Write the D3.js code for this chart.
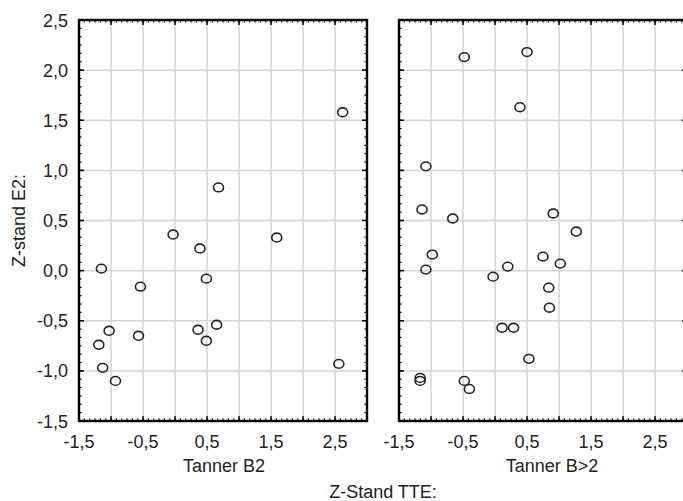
<!DOCTYPE html>
<html>
<head>
<meta charset="utf-8">
<script src="https://cdn.jsdelivr.net/npm/d3@7"></script>
<style>
  body { margin: 0; background: #fff; }
  svg { display: block; font-family: "Liberation Sans", Arial, sans-serif; }
</style>
</head>
<body>
<svg id="chart" width="683" height="501"></svg>
<script>
// Datos (Z-Stand TTE vs Z-stand E2)
var xB2 = [2.62, 0.68, 1.59, -0.03, 0.39, -1.15, 0.49, -0.54, -1.03, -0.57, 0.36, 0.65, 0.49, -1.19, -1.13, -0.93, 2.56];
var yB2 = [1.58, 0.83, 0.33, 0.36, 0.22, 0.02, -0.08, -0.16, -0.60, -0.65, -0.59, -0.54, -0.70, -0.74, -0.97, -1.10, -0.93];

var xB3 = [-0.48, 0.50, 0.39, -1.08, -1.14, -0.66, 0.91, 1.27, -0.98, -1.08, 0.75, 1.02, 0.20, -0.03, 0.84, 0.85, 0.11, 0.29, 0.53, -1.17, -1.17, -0.48, -0.40];
var yB3 = [2.13, 2.18, 1.63, 1.04, 0.61, 0.52, 0.57, 0.39, 0.16, 0.01, 0.14, 0.07, 0.04, -0.06, -0.17, -0.37, -0.57, -0.57, -0.88, -1.07, -1.10, -1.10, -1.18];

var yTicks = [-1.5, -1.0, -0.5, 0.0, 0.5, 1.0, 1.5, 2.0, 2.5];
var xLabels = [-1.5, -0.5, 0.5, 1.5, 2.5];
var xGrid = [-1.0, -0.5, 0.0, 0.5, 1.0, 1.5, 2.0, 2.5];
var panelTitles = ["Tanner B2", "Tanner B>2"];

var svg = d3.select("#chart");
var fmt = d3.formatLocale({decimal: ",", thousands: ".", grouping: [3], currency: ["", ""], minus: "-"}).format(".1f");

var plotTop = 20, plotBottom = 421, panelW = 288;
var panelLeft = [79, 399];
var textColor = "#222";
var fontSize = 18;

var y = d3.scaleLinear().domain([-1.5, 2.5]).range([plotBottom, plotTop]);

// etiqueta del eje y
svg.append("text")
    .attr("transform", "translate(25," + ((plotTop + plotBottom) / 2) + ") rotate(-90)")
    .attr("text-anchor", "middle")
    .attr("font-size", fontSize)
    .attr("fill", textColor)
    .text("Z-stand E2:");

// marcas del eje y en el panel izquierdo
svg.selectAll(".ylab").data(yTicks).enter().append("text")
    .attr("x", 68)
    .attr("y", function (d) { return y(d) + 6.5; })
    .attr("text-anchor", "end")
    .attr("font-size", fontSize)
    .attr("fill", textColor)
    .text(fmt);

function minorTicks(a, b) {
    var out = [];
    for (var i = 0; i <= Math.round((b - a) * 12); i++) out.push(a + i / 12);
    return out;
}

function dibujarPanel(k, xs, ys) {
    var x0 = panelLeft[k];
    var x = d3.scaleLinear().domain([-1.5, 3.0]).range([x0, x0 + panelW]);
    var g = svg.append("g");

    // rejilla
    g.selectAll(".gx").data(xGrid).enter().append("line")
        .attr("x1", function (d) { return x(d); }).attr("x2", function (d) { return x(d); })
        .attr("y1", plotTop).attr("y2", plotBottom)
        .attr("stroke", "#d4d4d4").attr("stroke-width", 1.5);
    g.selectAll(".gy").data(yTicks.slice(1, -1)).enter().append("line")
        .attr("x1", x0).attr("x2", x0 + panelW)
        .attr("y1", function (d) { return y(d); }).attr("y2", function (d) { return y(d); })
        .attr("stroke", "#d4d4d4").attr("stroke-width", 1.5);

    // marcas menores y mayores hacia adentro
    var xm = minorTicks(-1.5, 3.0), ym = minorTicks(-1.5, 2.5);
    var xMajor = xGrid.concat([-1.5, 3.0]);
    [[plotBottom, -1], [plotTop, 1]].forEach(function (s) {
        g.selectAll(null).data(xm).enter().append("line")
            .attr("x1", function (d) { return x(d); }).attr("x2", function (d) { return x(d); })
            .attr("y1", s[0]).attr("y2", s[0] + s[1] * 2.5)
            .attr("stroke", "#000").attr("stroke-width", 1.2);
        g.selectAll(null).data(xMajor).enter().append("line")
            .attr("x1", function (d) { return x(d); }).attr("x2", function (d) { return x(d); })
            .attr("y1", s[0]).attr("y2", s[0] + s[1] * 5)
            .attr("stroke", "#000").attr("stroke-width", 1.5);
    });
    [[x0, 1], [x0 + panelW, -1]].forEach(function (s) {
        g.selectAll(null).data(ym).enter().append("line")
            .attr("y1", function (d) { return y(d); }).attr("y2", function (d) { return y(d); })
            .attr("x1", s[0]).attr("x2", s[0] + s[1] * 2.5)
            .attr("stroke", "#000").attr("stroke-width", 1.2);
        g.selectAll(null).data(yTicks).enter().append("line")
            .attr("y1", function (d) { return y(d); }).attr("y2", function (d) { return y(d); })
            .attr("x1", s[0]).attr("x2", s[0] + s[1] * 5)
            .attr("stroke", "#000").attr("stroke-width", 1.5);
    });

    // marco
    g.append("rect")
        .attr("x", x0).attr("y", plotTop)
        .attr("width", panelW).attr("height", plotBottom - plotTop)
        .attr("fill", "none").attr("stroke", "#000").attr("stroke-width", 2.4);

    // etiquetas x
    g.selectAll(".xlab").data(xLabels).enter().append("text")
        .attr("x", function (d) { return x(d); })
        .attr("y", 448)
        .attr("text-anchor", "middle")
        .attr("font-size", fontSize)
        .attr("fill", textColor)
        .text(fmt);

    g.append("text")
        .attr("x", x0 + panelW / 2 + (k === 0 ? 1 : 9))
        .attr("y", 472)
        .attr("text-anchor", "middle")
        .attr("font-size", fontSize)
        .attr("fill", textColor)
        .text(panelTitles[k]);

    // puntos
    g.selectAll(".pt").data(xs).enter().append("ellipse")
        .attr("cx", function (d) { return x(d); })
        .attr("cy", function (d, i) { return y(ys[i]); })
        .attr("rx", 5).attr("ry", 4.4)
        .attr("fill", "none")
        .attr("stroke", "#222")
        .attr("stroke-width", 1.6);
}

dibujarPanel(0, xB2, yB2);
dibujarPanel(1, xB3, yB3);

svg.append("text")
    .attr("x", 383)
    .attr("y", 498)
    .attr("text-anchor", "middle")
    .attr("font-size", fontSize)
    .attr("fill", textColor)
    .text("Z-Stand TTE:");
</script>
</body>
</html>
